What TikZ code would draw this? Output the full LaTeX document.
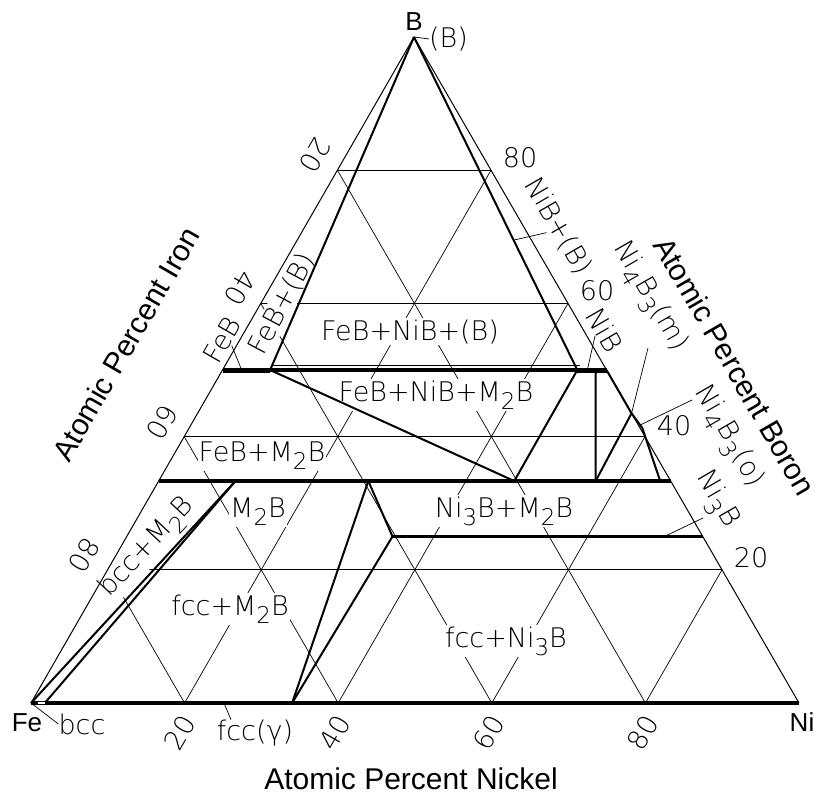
\documentclass[tikz,border=0pt]{standalone}
\usepackage{fontspec}
\setmainfont{Liberation Sans}
\newfontfamily\cadfont{DejaVu Sans ExtraLight}
\usepackage{graphicx}
\usetikzlibrary{calc}
\newcommand{\lo}[1]{\raisebox{-0.32em}{\scalebox{0.85}{#1}}}

\begin{document}
\begin{tikzpicture}[
    x=1pt, y=-1pt,
    gridln/.style={line width=0.7pt},
    rim/.style={line width=1pt},
    bnd/.style={line width=2pt},
    tie/.style={line width=3.6pt},
    lead/.style={line width=0.7pt},
    lbl/.style={font=\cadfont\fontsize{27}{30}\selectfont, fill=white, inner sep=1pt},
    num/.style={font=\cadfont\fontsize{27}{30}\selectfont, inner sep=0pt},
    corner/.style={font=\fontsize{26}{30}\selectfont, inner sep=0pt},
    ttl/.style={font=\fontsize{30}{32}\selectfont, inner sep=0pt}
]
% --- frame of the picture (pixels) ---
\useasboundingbox (0,0) rectangle (818,795);

% --- ternary frame: (Ni fraction, B fraction) ---
\begin{scope}[shift={(31,703)}, x={(768pt,0pt)}, y={(383pt,666pt)}]
\coordinate (Fe)     at (0,0);
\coordinate (Ni)     at (1,0);
\coordinate (B)      at (0,1);
\coordinate (bcc)    at (0.018,0);
\coordinate (fcc)    at (0.34,0);
\coordinate (fccpt)  at (0.2513,0);
\coordinate (feb0)   at (0,0.5);
\coordinate (feb)    at (0.062,0.5);
\coordinate (febp)   at (0.025,0.5);
\coordinate (nib)    at (0.462,0.5);
\coordinate (nibp)   at (0.475,0.5);
\coordinate (nib1)   at (0.486,0.5);
\coordinate (nib0)   at (0.5,0.5);
\coordinate (feb2)   at (0.062,0.507);
\coordinate (nib2)   at (0.462,0.507);
\coordinate (fe2b)   at (0,1/3);
\coordinate (m2ba)   at (0.1,1/3);
\coordinate (m2bb)   at (0.273,1/3);
\coordinate (m2bc)   at (0.463,1/3);
\coordinate (m2bd)   at (0.569,1/3);
\coordinate (m2be)   at (0.653,1/3);
\coordinate (ni2b)   at (2/3,1/3);
\coordinate (ni4b3m) at (0.565,0.435);
\coordinate (ni4b3o) at (0.59,0.413);
\coordinate (ni3b)   at (0.346,0.25);
\coordinate (ni3bp)  at (0.7,0.25);
\coordinate (ni3be)  at (0.75,0.25);

% 20% grid
\foreach \k in {0.2,0.4,0.6,0.8} {
  \draw[gridln] (0,\k) -- ({1-\k},\k);
  \draw[gridln] (\k,0) -- (\k,{1-\k});
  \draw[gridln] (\k,0) -- (0,\k);
}
\end{scope}

% --- region labels ---
\node[lbl, anchor=base] (rFBB) at (410,340) {FeB+NiB+(B)};
\node[lbl, anchor=base] (rFBM) at (436,401) {FeB+NiB+M\lo{2}B};
\node[lbl, anchor=base] (rFM)  at (262,461) {FeB+M\lo{2}B};
\node[lbl, anchor=base] (rM)   at (258,517) {M\lo{2}B};
\node[lbl, anchor=base] (rfM)  at (230,615) {fcc+M\lo{2}B};
\node[lbl, anchor=base] (rNM)  at (504,517) {Ni\lo{3}B+M\lo{2}B};
\node[lbl, anchor=base] (rfN)  at (506,647) {fcc+Ni\lo{3}B};
\node[lbl, rotate=47]   (rbM)  at (148,548) {bcc+M\lo{2}B};
\node[lbl, rotate=62]   (rFB)  at (282,304) {FeB+(B)};
\node[lbl, rotate=60]   (rFeB) at (222,340) {FeB};
\node[lbl, rotate=-60]  (rNB)  at (558,226) {NiB+(B)};
\node[lbl, rotate=-60]  (rNiB) at (605,330) {NiB};
\node[lbl, rotate=-60]  (rN4m) at (649,297) {Ni\lo{4}B\lo{3}(m)};
\node[lbl, rotate=-60]  (rN4o) at (728,437) {Ni\lo{4}B\lo{3}(o)};
\node[lbl, rotate=-60]  (rN3)  at (716,500) {Ni\lo{3}B};

% --- corner labels ---
\node[corner] (lB)   at (414,22) {B};
\node[num, anchor=west] (lBB) at (429,39) {(B)};
\node[corner] (lFe)  at (27,723) {Fe};
\node[num] (lbcc) at (82,724) {bcc};
\node[corner] (lNi)  at (802,722) {Ni};
\node[num] (lfcc) at (255,733) {fcc(γ)};

% --- scale numbers ---
\foreach \t/\x in {20/180,40/335,60/489,80/643}
  \node[num, rotate=60] (bn\t) at (\x,733) {\t};
\foreach \t/\x/\y in {80/84/555,60/162/422,40/240/288,20/315/155}
  \node[num, rotate=240] (ln\t) at (\x,\y) {\t};
\foreach \t/\x/\y in {80/520/158,60/597/291,40/674/426,20/751/558}
  \node[num] (rn\t) at (\x,\y) {\t};

% --- axis titles ---
\node[ttl, rotate=60]  (tFe) at (126,344) {Atomic Percent Iron};
\node[ttl, rotate=-60] (tB)  at (735,366) {Atomic Percent Boron};
\node[ttl, anchor=base] (tNi) at (411,789) {Atomic Percent Nickel};

% --- triangle sides ---
\draw[rim] (Fe) -- (B) -- (Ni);

% --- phase boundaries ---
\draw[bnd] (B) -- (feb);
\draw[bnd] (B) -- (nib);
\draw[bnd] (feb) -- (m2bc);
\draw[bnd] (nib) -- (m2bc);
\draw[bnd] (nib1) -- (m2bd);
\draw[bnd] (m2bd) -- (ni4b3m);
\draw[bnd] (nib0) -- (ni4b3m) -- (ni4b3o) -- (m2be);
\draw[bnd] (Fe) -- (m2ba);
\draw[bnd] (bcc) -- (m2ba);
\draw[bnd] (fcc) -- (m2bb);
\draw[bnd] (fcc) -- (ni3b);
\draw[bnd] (m2bb) -- (ni3b);

% tie lines
\draw[tie] (feb0) -- (nib0);
\draw[gridln] (feb2) -- (nib2);
\draw[tie] (fe2b) -- (ni2b);
\draw[tie] (ni3b) -- (ni3be);
\draw[tie] (Fe) -- (Ni);
\draw[line width=5pt] (feb0) -- (feb);
\draw[line width=5pt] (nib) -- (nib0);
\draw[line width=0.7pt, fill=white] (37,701.6) rectangle (45,704.4);

% --- leaders ---
\coordinate (mtail) at (648,348);
\coordinate (otail) at (692,400);
\coordinate (ntail) at (703,518);
\draw[lead] (Fe) -- (lbcc.west);
\draw[lead] (B) -- (lBB.west);
\draw[lead] (fccpt) -- ([xshift=-24pt]lfcc.north);
\draw[lead] (rFeB.south) -- (febp);
\draw[lead] (rNB.south) -- ($(B)!0.61!(nib)$);
\draw[lead] (rNiB.south) -- (nibp);
\draw[lead] (mtail) -- (ni4b3m);
\draw[lead] (otail) -- ($(ni4b3m)!0.8!(ni4b3o)$);
\draw[lead] (ntail) -- (ni3bp);

\end{tikzpicture}
\end{document}
